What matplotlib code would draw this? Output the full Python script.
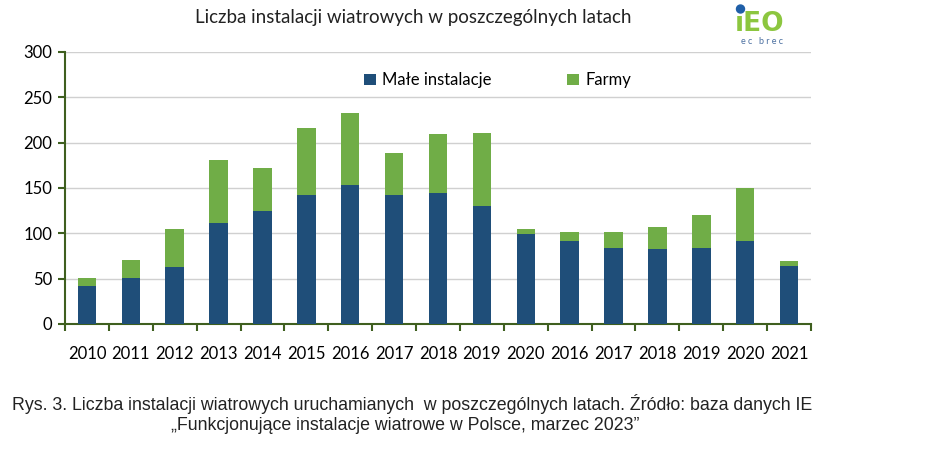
import numpy as np
import matplotlib.pyplot as plt
from matplotlib.patches import Ellipse

# Data
years = ['2010', '2011', '2012', '2013', '2014', '2015', '2016', '2017', '2018',
         '2019', '2020', '2016', '2017', '2018', '2019', '2020', '2021']
male = [42, 51, 63, 111, 125, 142, 153, 142, 144, 130, 99, 92, 84, 83, 84, 92, 64]
total = [51, 71, 105, 181, 172, 216, 233, 189, 210, 211, 105, 102, 102, 107, 120, 150, 70]
farmy = [t - m for t, m in zip(total, male)]

blue = '#1F4E79'
green = '#70AD47'
axis_col = '#3F5F1F'

plt.rcParams['font.family'] = ['Lato', 'DejaVu Sans']

fig = plt.figure(figsize=(9.4, 4.54), dpi=100)
ax = fig.add_axes([65 / 940, 1 - 324 / 454, (811 - 65) / 940, (324 - 52) / 454])

x = np.arange(len(years))
ax.bar(x, male, width=0.42, color=blue, label='Małe instalacje', zorder=3)
ax.bar(x, farmy, width=0.42, bottom=male, color=green, label='Farmy', zorder=3)

ax.set_xlim(-0.5, len(years) - 0.5)
ax.set_ylim(0, 300)
ax.set_yticks(range(0, 301, 50))
ax.yaxis.grid(True, color='#d0d0d0', linewidth=1, zorder=0)

# category labels centred, ticks at the category boundaries
ax.set_xticks(x)
ax.set_xticklabels(years, fontsize=12)
ax.tick_params(axis='x', length=0, pad=16)
ax.set_xticks(np.arange(-0.5, len(years), 1), minor=True)
ax.tick_params(axis='x', which='minor', length=5, width=1.5, color=axis_col, direction='out')
ax.tick_params(axis='y', labelsize=12, length=5, width=1.5, color=axis_col, pad=4)

for s in ['top', 'right']:
    ax.spines[s].set_visible(False)
for s in ['left', 'bottom']:
    ax.spines[s].set_color(axis_col)
    ax.spines[s].set_linewidth(1.5)

leg = ax.legend(loc='upper center', bbox_to_anchor=(0.58, 0.98), ncol=2, frameon=False,
                fontsize=12, handlelength=0.7, handleheight=0.7, columnspacing=4.5,
                handletextpad=0.4)

fig.text(413 / 940, 1 - 18 / 454, 'Liczba instalacji wiatrowych w poszczególnych latach',
         ha='center', va='center', fontsize=13.5, color='#222222')

# logo
logo_font = ['DejaVu Sans']
fig.text(735 / 940, 1 - 31 / 454, '\u0131EO', ha='left', va='baseline', fontsize=19,
         fontweight='bold', color='#8CC63F', family=logo_font)
fig.patches.append(Ellipse((740.5 / 940, 1 - 9 / 454), 8 / 940, 8 / 454,
                           transform=fig.transFigure, color='#1F5FA8', zorder=5))
fig.text(762 / 940, 1 - 41 / 454, 'e c   b r e c', ha='center', va='center', fontsize=6.5,
         color='#4A6FA0')

cap_font = ['Liberation Sans Narrow', 'Liberation Sans', 'DejaVu Sans']
fig.text(412 / 940, 1 - 404 / 454,
         'Rys. 3. Liczba instalacji wiatrowych uruchamianych  w poszczególnych latach. Źródło: baza danych IE',
         ha='center', va='center', fontsize=12.8, family=cap_font, color='#222222')
fig.text(405 / 940, 1 - 426 / 454,
         '„Funkcjonujące instalacje wiatrowe w Polsce, marzec 2023”',
         ha='center', va='center', fontsize=12.8, family=cap_font, color='#222222')

fig.savefig('out.png', dpi=100)
